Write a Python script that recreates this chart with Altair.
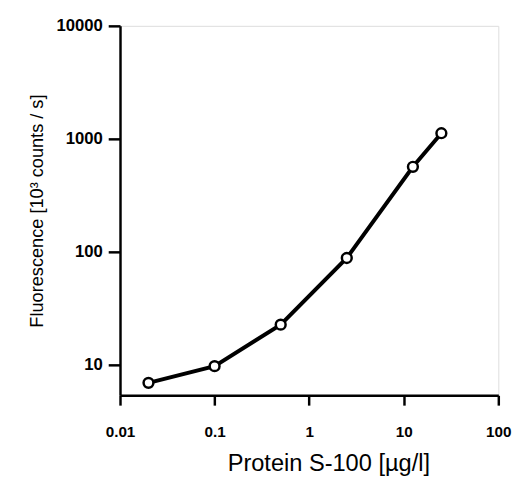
import altair as alt
import pandas as pd

protein = [0.02, 0.1, 0.5, 2.5, 12.5, 25]
fluorescence = [6.9, 9.7, 22.6, 88, 565, 1120]
x_ticks = [0.01, 0.1, 1, 10, 100]
y_ticks = [10, 100, 1000, 10000]

df = pd.DataFrame({"protein": protein, "fluorescence": fluorescence})

FONT = "Liberation Sans"

x = alt.X(
    "protein:Q",
    scale=alt.Scale(type="log", domain=[0.01, 100], nice=False),
    axis=alt.Axis(
        title="Protein S-100 [µg/l]",
        values=x_ticks,
        format="~g",
        grid=False,
        tickSize=10,
        tickWidth=2.5,
        domainWidth=2.5,
        domainColor="black",
        tickColor="black",
        labelFont=FONT,
        labelFontSize=15.5,
        labelFontWeight="bold",
        labelColor="black",
        labelPadding=20,
        labelFlush=False,
        labelOverlap=False,
        titleFont=FONT,
        titleFontSize=24,
        titleFontWeight="normal",
        titleColor="black",
        titlePadding=12,
        titleX=212,
        titleAlign="center",
    ),
)

y = alt.Y(
    "fluorescence:Q",
    scale=alt.Scale(type="log", domain=[5.35, 10000], nice=False),
    axis=alt.Axis(
        title="Fluorescence [10³ counts / s]",
        values=y_ticks,
        format="d",
        grid=False,
        tickSize=12,
        tickWidth=2.5,
        domainWidth=2.5,
        domainColor="black",
        tickColor="black",
        labelFont=FONT,
        labelFontSize=17,
        labelFontWeight="bold",
        labelColor="black",
        labelPadding=6,
        labelFlush=False,
        labelOverlap=False,
        titleFont=FONT,
        titleFontSize=18.5,
        titleFontWeight="normal",
        titleColor="black",
        titlePadding=10,
    ),
)

base = alt.Chart(df).encode(x=x, y=y)

line = base.mark_line(color="black", strokeWidth=4)
pts = base.mark_point(
    shape="circle", filled=True, fill="white", stroke="black",
    strokeWidth=2.5, size=100, opacity=1,
)

chart = (
    (line + pts)
    .properties(
        width=385,
        height=376,
        padding={"left": 19, "top": 5, "right": 5, "bottom": 0},
    )
    .configure_view(stroke=None)
    .configure(background="white")
)

chart.save("out.html", embed_options={"renderer": "svg", "actions": False})
